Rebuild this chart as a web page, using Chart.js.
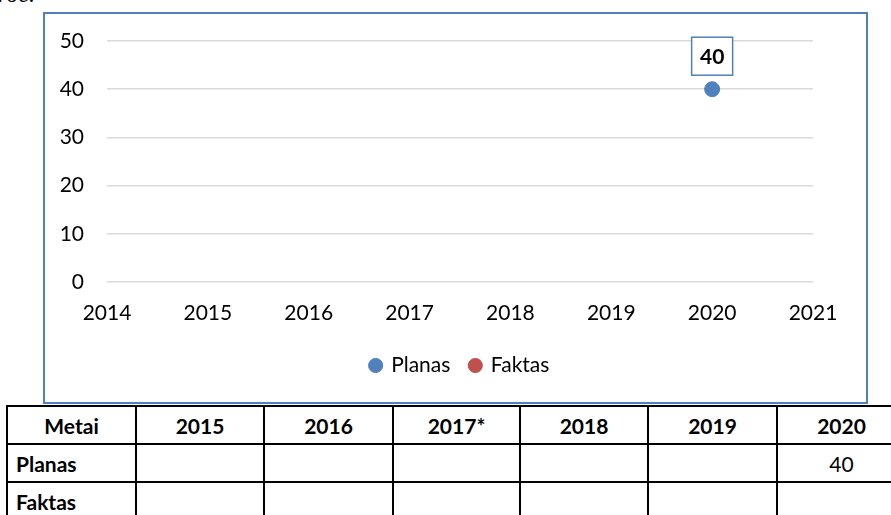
<!DOCTYPE html>
<html>
<head>
<meta charset="utf-8">
<script src="https://cdn.jsdelivr.net/npm/chart.js@4"></script>
<style>
  html, body { margin: 0; padding: 0; background: #fff; width: 891px; height: 515px; overflow: hidden; position: relative; font-family: Lato, sans-serif; }
  .caption { position: absolute; left: -2px; top: -19px; font-family: "Liberation Serif", serif; font-style: italic; font-size: 24px; color: #000; }
  .chart-box { position: absolute; left: 43px; top: 12px; width: 821px; height: 388px; border: 2px solid #4f81bd; background: #fff; }
  table { position: absolute; left: 6px; top: 405px; border-collapse: collapse; table-layout: fixed; font-family: Lato, sans-serif; font-size: 21px; color: #000; }
  td { border: 2px solid #000; padding: 0 8px; height: 36px; overflow: hidden; white-space: nowrap; }
  td.head { font-weight: bold; text-align: center; }
  td.name { font-weight: bold; text-align: left; }
  td.num { text-align: center; }
</style>
</head>
<body>
<div class="caption">roc.</div>
<div class="chart-box"><canvas id="chart" width="821" height="388"></canvas></div>
<table id="dataTable"></table>
<script>
(function() {
    'use strict';

    // Chart data
    const years = [2015, 2016, 2017, 2018, 2019, 2020];
    const planas = [null, null, null, null, null, 40];
    const faktas = [null, null, null, null, null, null];

    // Table data
    const tableHeaders = ['Metai', '2015', '2016', '2017*', '2018', '2019', '2020'];
    const tableRows = ['Planas', 'Faktas'];
    const colWidths = [129, 128, 129, 127, 128, 129, 129];

    const blue = '#4f81bd';
    const red = '#c0504d';

    function toPoints(values) {
        const pts = [];
        values.forEach((v, i) => {
            if (v !== null) pts.push({ x: years[i], y: v });
        });
        return pts;
    }

    // Boxed value label above each point
    const boxLabels = {
        id: 'boxLabels',
        afterDatasetsDraw(chart) {
            const ctx = chart.ctx;
            chart.data.datasets.forEach((ds, di) => {
                const meta = chart.getDatasetMeta(di);
                meta.data.forEach((el, i) => {
                    const text = String(ds.data[i].y);
                    const w = 41, h = 38;
                    const cx = el.x, cy = el.y - 33;
                    ctx.save();
                    ctx.fillStyle = '#fff';
                    ctx.fillRect(cx - w / 2, cy - h / 2, w, h);
                    ctx.strokeStyle = blue;
                    ctx.lineWidth = 1.5;
                    ctx.strokeRect(cx - w / 2, cy - h / 2, w, h);
                    ctx.fillStyle = '#000';
                    ctx.font = 'bold 21px Lato';
                    ctx.textAlign = 'center';
                    ctx.textBaseline = 'middle';
                    ctx.fillText(text, cx, cy + 1);
                    ctx.restore();
                });
            });
        }
    };

    // Nudge the legend a little to the right, as in the original
    const legendShift = {
        id: 'legendShift',
        afterLayout(chart) {
            chart.legend.left += 27;
            chart.legend.right += 27;
        }
    };

    const font = { family: 'Lato', size: 21 };

    new Chart(document.getElementById('chart'), {
        type: 'scatter',
        data: {
            datasets: [
                { label: 'Planas', data: toPoints(planas), backgroundColor: blue, borderColor: blue, pointRadius: 7.5, pointHoverRadius: 7.5 },
                { label: 'Faktas', data: toPoints(faktas), backgroundColor: red, borderColor: red, pointRadius: 7.5 }
            ]
        },
        options: {
            responsive: false,
            animation: false,
            layout: { padding: { top: 27, right: 53, bottom: 16, left: 8 } },
            plugins: {
                legend: {
                    position: 'bottom',
                    labels: {
                        usePointStyle: true,
                        pointStyle: 'circle',
                        boxWidth: 10,
                        boxHeight: 10,
                        padding: 20,
                        color: '#000',
                        font: font
                    }
                },
                tooltip: { enabled: false }
            },
            scales: {
                x: {
                    type: 'linear',
                    min: 2014,
                    max: 2021,
                    grid: { display: false, drawTicks: false },
                    border: { display: false },
                    ticks: {
                        stepSize: 1,
                        padding: 19,
                        color: '#000',
                        font: font,
                        callback: v => String(v)
                    },
                    afterFit(scale) { scale.height = 53; }
                },
                y: {
                    min: 0,
                    max: 50,
                    grid: { color: '#d9d9d9', lineWidth: 1.5, drawTicks: false },
                    border: { display: false },
                    ticks: {
                        stepSize: 10,
                        padding: 23,
                        color: '#000',
                        font: font
                    },
                    afterFit(scale) {
                        scale.width = 54;
                        scale.paddingTop = 0;
                        scale.paddingBottom = 0;
                    }
                }
            }
        },
        plugins: [boxLabels, legendShift]
    });

    // Table below the chart
    const table = document.getElementById('dataTable');
    table.style.width = colWidths.reduce((a, b) => a + b, 0) + 'px';
    let html = '<colgroup>' + colWidths.map(w => '<col style="width:' + w + 'px">').join('') + '</colgroup>';
    html += '<tr>' + tableHeaders.map(h => '<td class="head">' + h + '</td>').join('') + '</tr>';
    const rowValues = [planas, faktas];
    tableRows.forEach((name, r) => {
        html += '<tr><td class="name">' + name + '</td>' +
            rowValues[r].map(v => '<td class="num">' + (v === null ? '' : v) + '</td>').join('') + '</tr>';
    });
    table.innerHTML = html;
})();
</script>
</body>
</html>
